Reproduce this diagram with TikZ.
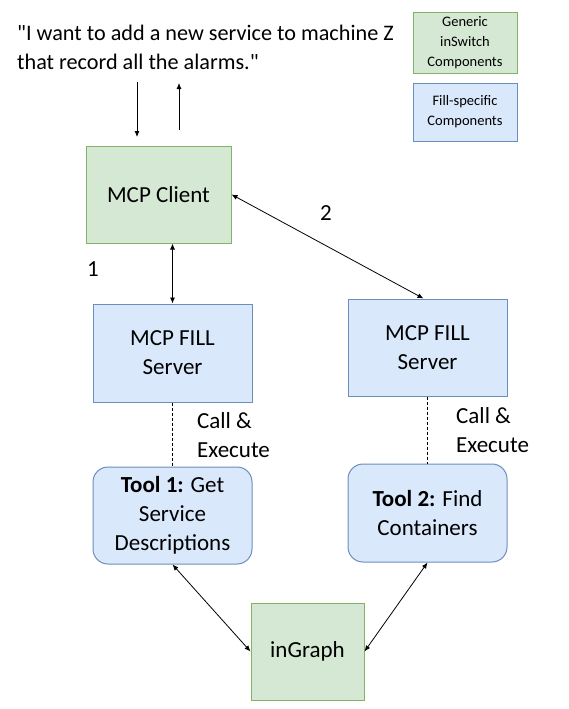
\documentclass[tikz,border=0pt]{standalone}
\usepackage{fontspec}
\setmainfont{Carlito}
\usetikzlibrary{arrows.meta}
\definecolor{lightgreen}{RGB}{213,232,212}
\definecolor{darkgreen}{RGB}{130,179,102}
\definecolor{lightblue}{RGB}{218,232,252}
\definecolor{darkblue}{RGB}{108,142,191}

\begin{document}
\begin{tikzpicture}[x=1pt,y=-1pt,
    txt/.style={font=\fontsize{23}{29}\selectfont,inner sep=0pt,align=center},
    small/.style={font=\fontsize{14.5}{20}\selectfont,inner sep=0pt,align=center},
    genericbox/.style={draw=darkgreen,fill=lightgreen,line width=1pt},
    fillbox/.style={draw=darkblue,fill=lightblue,line width=1pt},
    toolbox/.style={fillbox,rounded corners=15pt},
    callline/.style={dash pattern=on 3pt off 2pt,line width=0.8pt},
    tip/.style={-{Latex[length=6pt,width=5pt]},line width=0.8pt},
    biarrow/.style={{Latex[length=6pt,width=5pt]}-{Latex[length=6pt,width=5pt]},line width=0.8pt}]
\useasboundingbox (0,0) rectangle (569,709);

% legend
\node[small,genericbox,minimum width=104pt,minimum height=60pt] (leggreen) at (465,43) {Generic\\inSwitch\\Components};
\node[small,fillbox,minimum width=104pt,minimum height=58pt] (legblue) at (465,112) {Fill-specific\\Components};

% user request
\node[txt,font=\fontsize{22.2}{29}\selectfont,anchor=west,align=left] (quote) at (17,47.5) {\textquotedbl I want to add a new service to machine Z\\that record all the alarms.\textquotedbl};
\coordinate (askfrom) at (137,82);
\coordinate (askto) at (137,137);
\coordinate (replyfrom) at (179,130);
\coordinate (replyto) at (179,83);
\draw[tip] (askfrom) -- (askto);
\draw[tip] (replyfrom) -- (replyto);

% components
\node[txt,genericbox,minimum width=145pt,minimum height=97pt] (client) at (158.5,194.5) {MCP Client};
\node[txt,fillbox,minimum width=159pt,minimum height=98pt] (lsrv) at (172.5,353) {MCP FILL\\Server};
\node[txt,fillbox,minimum width=159pt,minimum height=97pt] (rsrv) at (427.5,347.5) {MCP FILL\\Server};
\node[txt,toolbox,minimum width=159pt,minimum height=97pt] (tool1) at (172.5,515.5) {\textbf{Tool 1:} Get\\Service\\Descriptions};
\node[txt,toolbox,minimum width=159pt,minimum height=98pt] (tool2) at (427.5,513) {\textbf{Tool 2:} Find\\Containers};
\node[txt,genericbox,minimum width=113pt,minimum height=97pt] (ingraph) at (307.5,651.5) {inGraph};

% connectors
\draw[biarrow] (lsrv.north |- client.south) -- (lsrv.north);
\draw[biarrow] (client.east) -- ([xshift=-4pt]rsrv.north);
\draw[callline] (lsrv.south) -- (tool1.north);
\draw[callline] (rsrv.south) -- (tool2.north);
\draw[biarrow] (tool1.south) -- (ingraph.west);
\draw[biarrow] (tool2.south) -- (ingraph.east);

% labels
\node[txt] (one) at (93,269) {1};
\node[txt] (two) at (326,213) {2};
\node[txt,anchor=west,align=left] (lcall) at (197,435.5) {Call \&\\Execute};
\node[txt,anchor=west,align=left] (rcall) at (456,430.5) {Call \&\\Execute};
\end{tikzpicture}
\end{document}
